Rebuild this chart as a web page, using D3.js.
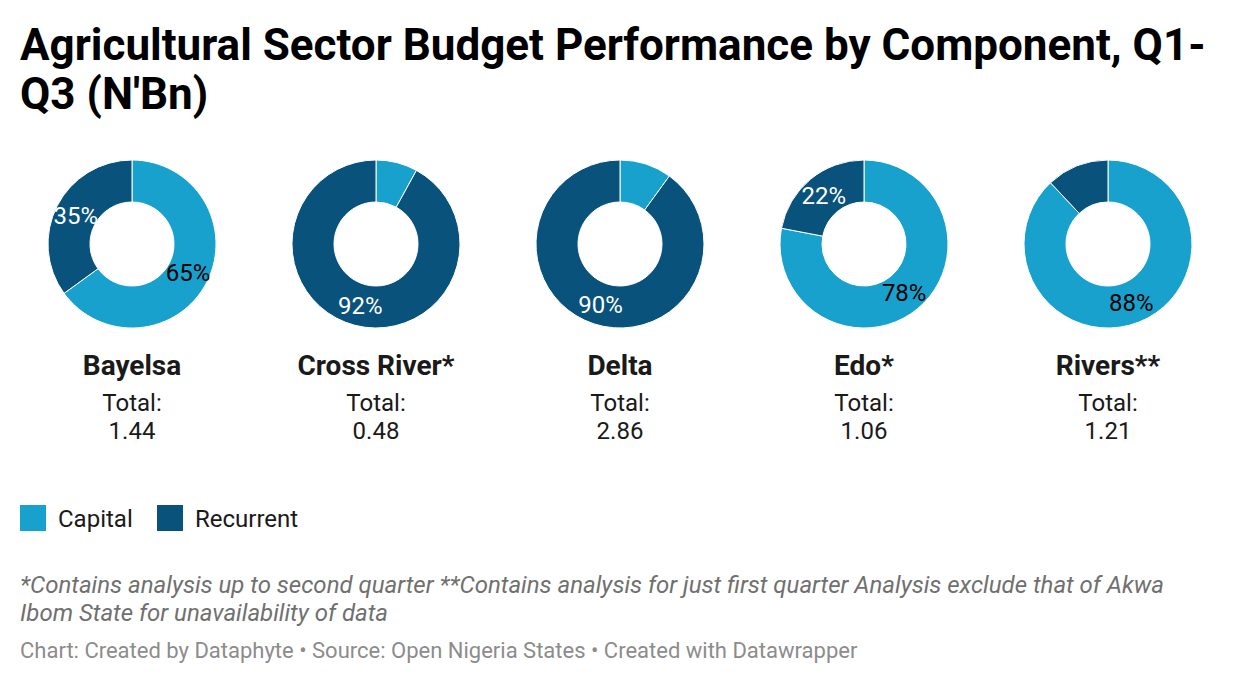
<!DOCTYPE html>
<html>
<head>
<meta charset="utf-8">
<script src="https://cdn.jsdelivr.net/npm/d3@7"></script>
<style>
  html, body { margin: 0; padding: 0; background: #fff; }
  svg { display: block; font-family: Roboto, "Noto Sans", sans-serif; }
</style>
</head>
<body>
<svg id="chart" width="1240" height="684"></svg>
<script>
// ---- data ----
const states = ["Bayelsa", "Cross River*", "Delta", "Edo*", "Rivers**"];
const capitalPct = [65, 8, 10, 78, 88];
const recurrentPct = [35, 92, 90, 22, 12];
const totals = ["1.44", "0.48", "2.86", "1.06", "1.21"];
const seriesNames = ["Capital", "Recurrent"];
const seriesColors = ["#18a1cd", "#08527b"];
const labelColors = ["#000000", "#ffffff"];
const titleLines = ["Agricultural Sector Budget Performance by Component, Q1-", "Q3 (N'Bn)"];
const noteLines = [
  "*Contains analysis up to second quarter **Contains analysis for just first quarter Analysis exclude that of Akwa",
  "Ibom State for unavailability of data"
];
const footer = "Chart: Created by Dataphyte \u2022 Source: Open Nigeria States \u2022 Created with Datawrapper";

// ---- layout ----
const svg = d3.select("#chart");

// title
svg.append("g").selectAll("text").data(titleLines).join("text")
  .attr("x", 20).attr("y", (d, i) => 60 + i * 49)
  .attr("font-size", 44).attr("font-weight", 700).attr("fill", "#000")
  .text(d => d);

// donut positions
const xScale = d3.scalePoint().domain(states).range([132, 1108]);
const cy = 244;
const rOuter = 84, rInner = 42;
const arc = d3.arc().innerRadius(rInner).outerRadius(rOuter);
const pie = d3.pie().sort(null).value(d => d.v);

states.forEach((s, i) => {
  const g = svg.append("g").attr("transform", `translate(${xScale(s)},${cy})`);
  const parts = [
    { k: 0, v: capitalPct[i] },
    { k: 1, v: recurrentPct[i] }
  ];
  const arcs = pie(parts);
  g.selectAll("path").data(arcs).join("path")
    .attr("d", arc)
    .attr("fill", d => seriesColors[d.data.k])
    .attr("stroke", "#fff").attr("stroke-width", 1);
  g.selectAll("text").data(arcs.filter(d => d.data.v >= 15)).join("text")
    .attr("transform", d => `translate(${arc.centroid(d)})`)
    .attr("text-anchor", "middle").attr("dy", "0.36em")
    .attr("font-size", 24)
    .attr("fill", d => labelColors[d.data.k])
    .text(d => d.data.v + "%");

  const t = svg.append("g").attr("transform", `translate(${xScale(s)},0)`)
    .attr("text-anchor", "middle");
  t.append("text").attr("y", 375).attr("font-size", 28).attr("font-weight", 700)
    .attr("fill", "#1a1a1a").text(s);
  t.append("text").attr("y", 411).attr("font-size", 24).attr("fill", "#1a1a1a").text("Total:");
  t.append("text").attr("y", 439).attr("font-size", 24).attr("fill", "#1a1a1a").text(totals[i]);
});

// legend
const legend = svg.append("g");
const legX = [20, 157];
seriesNames.forEach((n, i) => {
  legend.append("rect").attr("x", legX[i]).attr("y", 505).attr("width", 26).attr("height", 26)
    .attr("fill", seriesColors[i]);
  legend.append("text").attr("x", legX[i] + 38).attr("y", 527)
    .attr("font-size", 24).attr("fill", "#1a1a1a").text(n);
});

// notes
svg.append("g").selectAll("text").data(noteLines).join("text")
  .attr("x", 20).attr("y", (d, i) => 593 + i * 28)
  .attr("font-size", 24).attr("font-style", "italic").attr("fill", "#707070")
  .text(d => d);

svg.append("text").attr("x", 20).attr("y", 658)
  .attr("font-size", 22).attr("fill", "#8c8c8c").text(footer);
</script>
</body>
</html>
